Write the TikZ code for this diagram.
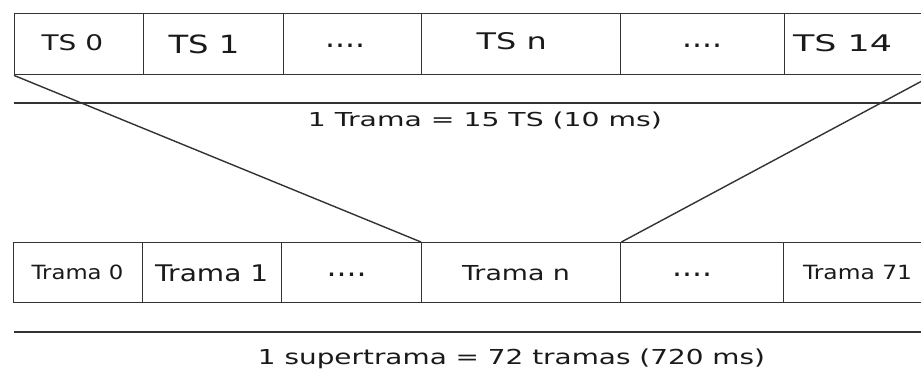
\documentclass[tikz,border=0pt]{standalone}
\usepackage{fontspec}
\usepackage{graphicx}
\setmainfont{DejaVu Sans}
\definecolor{linec}{HTML}{333333}
\definecolor{textc}{HTML}{1A1A1A}
\tikzset{
  cellbox/.style={draw=linec, line width=1.4pt, inner sep=0pt, anchor=north west, minimum height=#1},
  lab/.style={inner sep=0pt, anchor=base, text=textc},
  rule/.style={draw=linec, line width=1.4pt},
}
\newcommand{\mylbl}[6]{\node[lab] (#1) at (#2,#3) {\resizebox{#5pt}{\height}{\fontsize{#4}{#4}\selectfont #6}};}
\begin{document}
\begin{tikzpicture}[x=1pt,y=-1pt]
\clip (0,0) rectangle (921,369);
\fill[white] (0,0) rectangle (921,369);
% top strip
\node[cellbox=61pt, minimum width=129pt] (t0) at (14,13) {};
\node[cellbox=61pt, minimum width=140pt] (t1) at (143,13) {};
\node[cellbox=61pt, minimum width=138pt] (t2) at (283,13) {};
\node[cellbox=61pt, minimum width=199pt] (t3) at (421,13) {};
\node[cellbox=61pt, minimum width=164pt] (t4) at (620,13) {};
\node[cellbox=61pt, minimum width=147pt] (t5) at (784,13) {};
% bottom strip
\node[cellbox=60pt, minimum width=129pt] (b0) at (13,242) {};
\node[cellbox=60pt, minimum width=139pt] (b1) at (142,242) {};
\node[cellbox=60pt, minimum width=140pt] (b2) at (281,242) {};
\node[cellbox=60pt, minimum width=199pt] (b3) at (421,242) {};
\node[cellbox=60pt, minimum width=163pt] (b4) at (620,242) {};
\node[cellbox=60pt, minimum width=148pt] (b5) at (783,242) {};
% zoom lines
\draw[rule] (t0.south west) -- (b3.north west);
\draw[rule] (t5.south east) -- (b3.north east);
% separator rules
\coordinate (r1a) at (14,103); \coordinate (r1b) at (930,103);
\coordinate (r2a) at (14,332); \coordinate (r2b) at (930,332);
\draw[rule] (r1a) -- (r1b);
\draw[rule] (r2a) -- (r2b);
% top labels
\mylbl{lt0}{72.4}{50.7}{21.5}{61.6}{TS 0}
\mylbl{lt1}{204}{53.3}{25.1}{71}{TS 1}
\mylbl{lt2}{345}{47.5}{28}{40}{....}
\mylbl{lt3}{511.7}{49.3}{22.9}{70}{TS n}
\mylbl{lt4}{702}{47.5}{28}{40}{....}
\mylbl{lt5}{842.5}{51.7}{22.9}{99}{TS 14}
% bottom labels
\mylbl{lb0}{77.5}{279.3}{19.6}{91.7}{Trama 0}
\mylbl{lb1}{211.7}{281.7}{22.9}{113}{Trama 1}
\mylbl{lb2}{346.7}{276}{28}{40}{....}
\mylbl{lb3}{516}{280}{20.6}{108}{Trama n}
\mylbl{lb4}{692}{276}{28}{40}{....}
\mylbl{lb5}{857.5}{279.3}{19.6}{109}{Trama 71}
% captions
\mylbl{c1}{485}{126}{19.2}{354}{1 Trama = 15 TS (10 ms)}
\mylbl{c2}{511.5}{364}{20.6}{507}{1 supertrama = 72 tramas (720 ms)}
\end{tikzpicture}
\end{document}
